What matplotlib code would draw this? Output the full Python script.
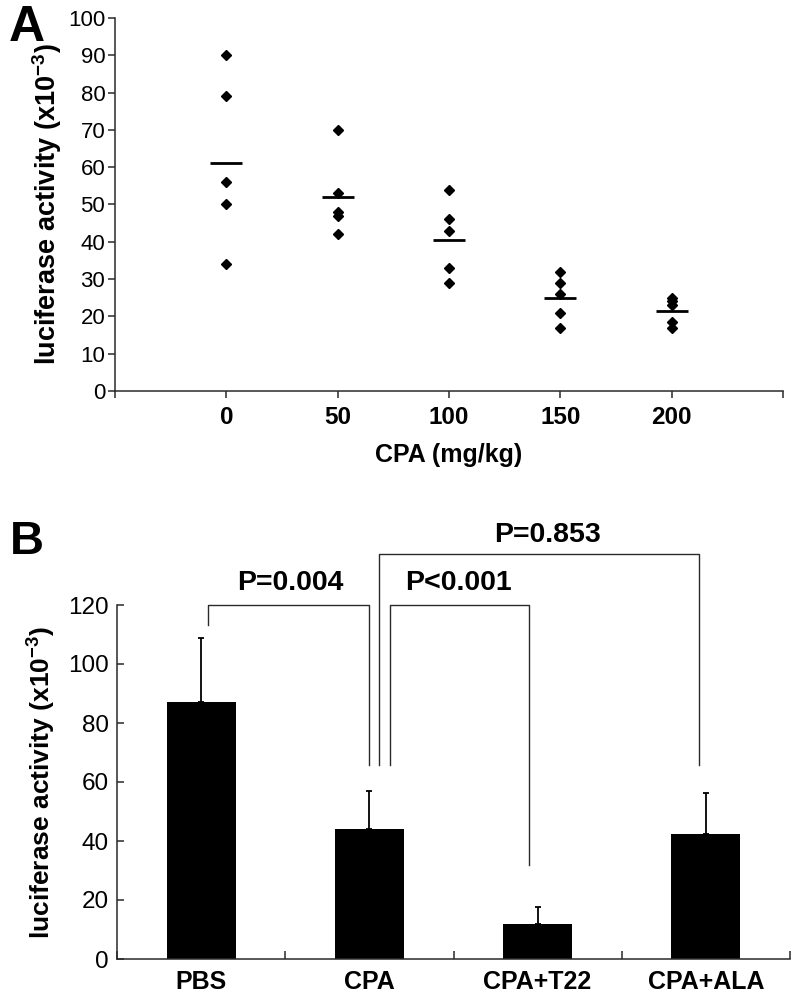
import matplotlib
matplotlib.use("Agg")
import matplotlib.pyplot as plt
import numpy as np

plt.rcParams['font.family'] = ['Liberation Sans', 'DejaVu Sans']
plt.rcParams['mathtext.fontset'] = 'custom'
plt.rcParams['mathtext.rm'] = 'Liberation Sans'
plt.rcParams['mathtext.bf'] = 'Liberation Sans:bold'

# ---------------- data ----------------
doses = ['0', '50', '100', '150', '200']
pts_0 = [90, 79, 56, 50, 34]
pts_50 = [70, 53, 48, 47, 42]
pts_100 = [54, 46, 43, 33, 29]
pts_150 = [32, 29, 26, 21, 17]
pts_200 = [25, 24, 23, 18.5, 17]
a_means = [61, 52, 40.5, 25, 21.5]

groups = ['PBS', 'CPA', 'CPA+T22', 'CPA+ALA']
b_means = [87, 44.2, 11.9, 42.4]
b_err = [21.7, 12.6, 5.6, 13.8]

p_labels = ['P=0.004', 'P<0.001', 'P=0.853']

AX = '#2a2a2a'

fig = plt.figure(figsize=(8, 10.08), dpi=100)

# ---------------- panel A ----------------
axA = fig.add_axes([115/800, 1-391/1008, (783-115)/800, (391-18)/1008])
all_pts = [pts_0, pts_50, pts_100, pts_150, pts_200]
for i, p in enumerate(all_pts):
    axA.plot([i]*len(p), p, linestyle='none', marker='D', markersize=5.5,
             color='black', clip_on=False)
axA.hlines(a_means, np.arange(5)-0.145, np.arange(5)+0.145, color='black', lw=2)
axA.set_xlim(-1, 5)
axA.set_ylim(0, 100)
axA.set_xticks(range(-1, 6))
axA.set_xticklabels([''] + doses + [''], fontsize=17.5, fontweight='bold')
axA.set_yticks(range(0, 101, 10))
axA.tick_params(axis='y', labelsize=16, direction='out', length=5, width=1.1, color=AX, pad=2)
axA.tick_params(axis='x', direction='out', length=5, width=1.1, color=AX, pad=6)
for s in ['top', 'right']:
    axA.spines[s].set_visible(False)
for s in ['left', 'bottom']:
    axA.spines[s].set_color(AX)
    axA.spines[s].set_linewidth(1.1)
axA.set_xlabel('CPA (mg/kg)', fontsize=18, fontweight='bold', labelpad=10)
axA.set_ylabel('luciferase activity (x10$^{\\mathbf{-3}}$)', fontsize=19.5,
               fontweight='bold', labelpad=3)
fig.text(27/800, 1-28/1008, 'A', fontsize=36, fontweight='bold', ha='center', va='center')

# ---------------- panel B ----------------
axB = fig.add_axes([117/800, 1-959/1008, (790-117)/800, (959-605)/1008])
x = np.arange(len(groups))
axB.bar(x, b_means, width=0.41, color='black')
axB.errorbar(x, b_means, yerr=[np.zeros(len(b_err)), b_err], fmt='none',
             ecolor='black', elinewidth=1.3, capsize=2.5, capthick=1.3)
axB.set_xlim(-0.5, 3.5)
axB.set_ylim(0, 120)
axB.set_xticks(x)
axB.set_xticklabels(groups, fontsize=18, fontweight='bold')
axB.set_xticks(np.arange(-0.5, 3.6, 1), minor=True)
axB.tick_params(axis='x', which='major', length=0, pad=8)
axB.tick_params(axis='x', which='minor', direction='in', length=6, width=1.1, color=AX)
axB.set_yticks(range(0, 121, 20))
axB.tick_params(axis='y', labelsize=17.5, direction='in', length=5, width=1.1, color=AX, pad=6)
for s in ['top', 'right']:
    axB.spines[s].set_visible(False)
for s in ['left', 'bottom']:
    axB.spines[s].set_color(AX)
    axB.spines[s].set_linewidth(1.1)
axB.set_ylabel('luciferase activity (x10$^{\\mathbf{-3}}$)', fontsize=19,
               fontweight='bold', labelpad=8)
fig.text(27/800, 1-542/1008, 'B', fontsize=34, fontweight='bold', ha='center', va='center')

# brackets: (x_left, x_right, y_top, y_left_bottom, y_right_bottom, text_x, text_y)
brackets = [
    (0.04, 1.00, 120.0, 113.2, 65.8, 0.53, 127.5),
    (1.12, 1.946, 120.0, 65.8, 31.9, 1.53, 127.5),
    (1.06, 2.96, 137.3, 65.8, 65.8, 2.06, 143.7),
]
for (xl, xr, yt, ylb, yrb, tx, ty), lab in zip(brackets, p_labels):
    axB.plot([xl, xl, xr, xr], [ylb, yt, yt, yrb], color=AX, lw=1.0, clip_on=False)
    axB.text(tx, ty, lab, fontsize=20.5, fontweight='bold', ha='center', va='center',
             family=['Liberation Sans Narrow', 'Liberation Sans', 'DejaVu Sans'])

fig.savefig('out.png', dpi=100)
